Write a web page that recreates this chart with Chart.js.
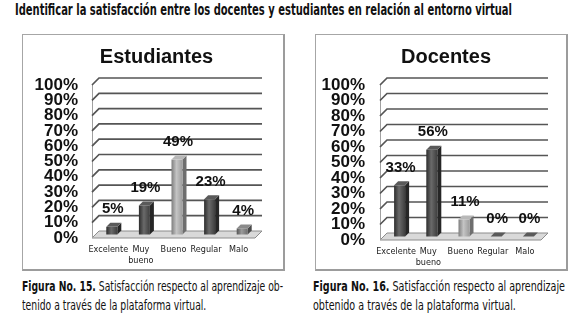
<!DOCTYPE html>
<html>
<head>
<meta charset="utf-8">
<script src="https://cdn.jsdelivr.net/npm/chart.js@4.4.1/dist/chart.umd.min.js"></script>
<style>
  html,body{margin:0;padding:0;background:#fff;}
  body{width:588px;height:330px;position:relative;overflow:hidden;color:#111;}
  .fit{position:absolute;white-space:nowrap;transform-origin:left top;font-family:'Liberation Sans Narrow','DejaVu Sans Condensed',sans-serif;}
  #hdr{left:15px;top:3px;font-weight:bold;font-size:15px;line-height:15px;}
  .cap{font-size:14px;line-height:16px;}
  .cap b{font-weight:bold;}
  .box{position:absolute;box-sizing:border-box;border:1px solid #a6a6a6;border-right:2px solid #9c9c9c;border-bottom:2px solid #9c9c9c;background:#fff;}
  canvas{position:absolute;}
</style>
</head>
<body>
<div id="hdr" class="fit">Identificar la satisfacción entre los docentes y estudiantes en relación al entorno virtual</div>

<div class="box" style="left:22px;top:34px;width:263px;height:237px;"></div>
<div class="box" style="left:315px;top:34px;width:253px;height:237px;"></div>

<canvas id="c1" width="261" height="235" style="left:26px;top:35px;"></canvas>
<canvas id="c2" width="250" height="235" style="left:321px;top:35px;"></canvas>

<div id="capL1" class="fit cap" style="left:22px;top:278px;"><b>Figura No. 15.</b> Satisfacción respecto al aprendizaje ob-</div>
<div id="capL2" class="fit cap" style="left:22px;top:297px;">tenido a través de la plataforma virtual.</div>
<div id="capR1" class="fit cap" style="left:313px;top:278px;"><b>Figura No. 16.</b> Satisfacción respecto al aprendizaje</div>
<div id="capR2" class="fit cap" style="left:313px;top:297px;">obtenido a través de la plataforma virtual.</div>

<script>
// ---------- DATA ----------
const categories = ['Excelente', ['Muy', 'bueno'], 'Bueno', 'Regular', 'Malo'];
const estudiantesValues = [5, 19, 49, 23, 4];
const docentesValues = [33, 56, 11, 0, 0];
const yTickLabels = ['0%', '10%', '20%', '30%', '40%', '50%', '60%', '70%', '80%', '90%', '100%'];
const estudiantesTitle = 'Estudiantes';
const docentesTitle = 'Docentes';

// ---------- STYLES ----------
const SHADES = {
  dark:  {edge:'#2c2c2c', hi:'#6a6a6a', base:'#3e3e3e', side:'#262626', top:'#5a5a5a'},
  mid:   {edge:'#555555', hi:'#9a9a9a', base:'#6e6e6e', side:'#4a4a4a', top:'#8a8a8a'},
  light: {edge:'#7e7e7e', hi:'#c4c4c4', base:'#9c9c9c', side:'#6e6e6e', top:'#b8b8b8'}
};
const estudiantesShades = ['dark', 'dark', 'light', 'dark', 'mid'];
const docentesShades = ['dark', 'dark', 'light', 'dark', 'dark'];

const WALL = 7;      // 3D wall depth
const BAR_D = 4;     // bar depth

Chart.defaults.font.family = "'Liberation Sans', Arial, sans-serif";
Chart.defaults.color = '#111';

const wallPlugin = {
  id: 'wall3d',
  beforeDatasetsDraw(chart) {
    const {ctx, chartArea: {left, right, bottom}, scales: {y}} = chart;
    ctx.save();
    ctx.beginPath();
    ctx.moveTo(left, bottom);
    ctx.lineTo(left + WALL, bottom - WALL);
    ctx.lineTo(right + WALL, bottom - WALL);
    ctx.lineTo(right, bottom);
    ctx.closePath();
    ctx.fillStyle = '#d9d9d9';
    ctx.fill();
    ctx.strokeStyle = '#8c8c8c';
    ctx.lineWidth = 1;
    ctx.stroke();
    ctx.beginPath();
    ctx.moveTo(left + 0.5, y.getPixelForValue(100));
    ctx.lineTo(left + 0.5, bottom);
    ctx.strokeStyle = '#a0a0a0';
    ctx.stroke();
    y.ticks.forEach(t => {
      if (t.value === 0) return;
      const py = y.getPixelForValue(t.value);
      ctx.beginPath();
      ctx.moveTo(left, py);
      ctx.lineTo(left + WALL, py - WALL);
      ctx.lineTo(right + WALL, py - WALL);
      ctx.strokeStyle = '#555';
      ctx.lineWidth = 1.7;
      ctx.stroke();
    });
    ctx.restore();
  },
  afterDatasetsDraw(chart) {
    const {ctx} = chart;
    const meta = chart.getDatasetMeta(0);
    const shades = chart.options.plugins.wall3d.shades;
    const s = WALL / 2;
    ctx.save();
    meta.data.forEach((bar, i) => {
      const p = bar.getProps(['x', 'y', 'base', 'width'], true);
      const sh = SHADES[shades[i]];
      const x = p.x + s, yTop = p.y - s, base = p.base - s;
      const l = x - p.width / 2, r = x + p.width / 2;
      ctx.fillStyle = sh.side;
      ctx.beginPath();
      ctx.moveTo(r, base);
      ctx.lineTo(r + BAR_D, base - BAR_D);
      ctx.lineTo(r + BAR_D, yTop - BAR_D);
      ctx.lineTo(r, yTop);
      ctx.closePath();
      ctx.fill();
      if (base - yTop > 0) {
        const g = ctx.createLinearGradient(l, 0, r, 0);
        g.addColorStop(0, sh.edge);
        g.addColorStop(0.45, sh.hi);
        g.addColorStop(1, sh.base);
        ctx.fillStyle = g;
        ctx.fillRect(l, yTop, r - l, base - yTop);
      }
      ctx.fillStyle = sh.top;
      ctx.beginPath();
      ctx.moveTo(l, yTop);
      ctx.lineTo(l + BAR_D, yTop - BAR_D);
      ctx.lineTo(r + BAR_D, yTop - BAR_D);
      ctx.lineTo(r, yTop);
      ctx.closePath();
      ctx.fill();
      const v = chart.data.datasets[0].data[i];
      ctx.font = "bold 15px 'Liberation Sans', Arial, sans-serif";
      ctx.fillStyle = '#111';
      ctx.textAlign = 'center';
      ctx.textBaseline = 'middle';
      ctx.fillText(v + '%', p.x + s + 1, p.y - 21);
    });
    ctx.restore();
  }
};

function makeChart(id, title, values, shades, cfg) {
  return new Chart(document.getElementById(id), {
    type: 'bar',
    data: {
      labels: categories,
      datasets: [{
        data: values,
        backgroundColor: 'rgba(0,0,0,0)',
        borderWidth: 0,
        barThickness: 11
      }]
    },
    options: {
      responsive: false,
      animation: false,
      devicePixelRatio: 1,
      layout: {padding: 0},
      plugins: {
        legend: {display: false},
        tooltip: {enabled: false},
        title: {
          display: true,
          text: title,
          color: '#111',
          font: {size: 20, weight: 'bold'},
          padding: {top: 10, bottom: 16}
        },
        wall3d: {shades: shades}
      },
      scales: {
        x: {
          grid: {display: false, drawTicks: false},
          border: {display: false},
          ticks: {
            color: '#222',
            padding: 6,
            maxRotation: 0,
            autoSkip: false,
            font: {family: "'Liberation Sans Narrow','DejaVu Sans Condensed',sans-serif", size: 9}
          },
          afterFit(s) { s.height = cfg.xH; }
        },
        y: {
          min: 0, max: 100,
          grid: {display: false, drawTicks: false},
          border: {display: false},
          ticks: {
            stepSize: 10,
            autoSkip: false,
            padding: cfg.tickPad,
            color: '#111',
            font: {size: 17, weight: 'bold'},
            callback: (v, i) => yTickLabels[i]
          },
          afterFit(s) { s.width = cfg.yW; }
        },
        yRight: {
          position: 'right',
          min: 0, max: 100,
          grid: {display: false, drawTicks: false},
          border: {display: false},
          ticks: {display: false},
          afterFit(s) { s.width = cfg.rW; }
        }
      }
    },
    plugins: [wallPlugin]
  });
}

makeChart('c1', estudiantesTitle, estudiantesValues, estudiantesShades,
  {yW: 66, rW: 32, xH: 32, tickPad: 14});
makeChart('c2', docentesTitle, docentesValues, docentesShades,
  {yW: 59, rW: 30, xH: 30, tickPad: 15});

function fit(id, w) {
  const el = document.getElementById(id);
  const nat = el.getBoundingClientRect().width;
  const k = w / nat;
  el.style.transform = 'scaleX(' + k + ')';
  return k;
}
function scaleBy(id, k) { document.getElementById(id).style.transform = 'scaleX(' + k + ')'; }
fit('hdr', 497);
const kL = fit('capL1', 261);
scaleBy('capL2', kL);
const kR = fit('capR1', 252);
scaleBy('capR2', kR);
</script>
</body>
</html>
